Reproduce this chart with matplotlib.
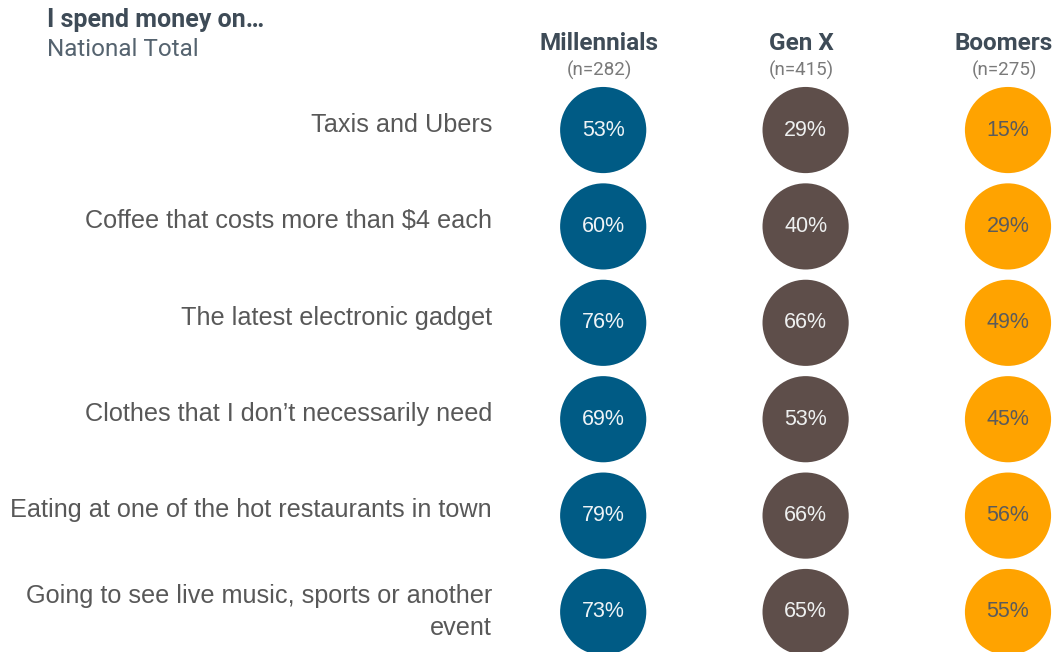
import matplotlib.pyplot as plt
from matplotlib import transforms

# survey results: share who spend money on each item
items = [
    "Taxis and Ubers",
    "Coffee that costs more than $4 each",
    "The latest electronic gadget",
    "Clothes that I don\u2019t necessarily need",
    "Eating at one of the hot restaurants in town",
    "Going to see live music, sports or another\nevent",
]
groups = ["Millennials", "Gen X", "Boomers"]
sample_sizes = [282, 415, 275]
millennials = [53, 60, 76, 69, 79, 73]
gen_x = [29, 40, 66, 53, 66, 65]
boomers = [15, 29, 49, 45, 56, 55]

colors = ["#005b85", "#5e4e4a", "#ffa300"]
value_colors = ["#eef3f6", "#eef0f0", "#5b5b5b"]
title_color = "#3e4b57"
label_color = "#585858"

fig = plt.figure(figsize=(10.59, 6.52), dpi=100)
ax = fig.add_axes([502 / 1059, 0, 557 / 1059, 1])
ax.set_xlim(-0.5, 2.252)
ax.set_ylim(5.415, -1.349)
ax.axis("off")

series = [millennials, gen_x, boomers]
rows = list(range(len(items)))
for gi, vals in enumerate(series):
    ax.scatter([gi] * len(vals), rows, s=3850, color=colors[gi],
               edgecolors="none", zorder=2)
    for ri, v in enumerate(vals):
        ax.text(gi, ri, f"{v}%", ha="center", va="center",
                fontsize=15.5, family="Liberation Sans",
                color=value_colors[gi], zorder=3)

# row labels sit right-aligned left of the circles
lab_tr = transforms.blended_transform_factory(fig.transFigure, ax.transData)
for ri, name in enumerate(items):
    dy = 0 if "\n" in name else -0.055
    ax.text(492 / 1059, ri + dy, name, transform=lab_tr, ha="right",
            va="center", fontsize=18.2, family="Liberation Sans",
            color=label_color, linespacing=1.45)

# column headers
head_tr = transforms.blended_transform_factory(ax.transData, fig.transFigure)
for gi, (g, n) in enumerate(zip(groups, sample_sizes)):
    ax.text(gi - 0.02, 1 - 43 / 652, g, transform=head_tr, ha="center",
            va="center", fontsize=17.5, fontweight="bold", family="Roboto",
            color=title_color)
    ax.text(gi - 0.02, 1 - 70 / 652, f"(n={n})", transform=head_tr,
            ha="center", va="center", fontsize=13.5, family="Roboto",
            color="#7a7a7a")

fig.text(47 / 1059, 1 - 20 / 652, "I spend money on\u2026", ha="left",
         va="center", fontsize=18, fontweight="bold", family="Roboto",
         color=title_color)
fig.text(47 / 1059, 1 - 49 / 652, "National Total", ha="left", va="center",
         fontsize=17.5, family="Roboto", color="#55636f")

fig.savefig("out.png", dpi=100)
